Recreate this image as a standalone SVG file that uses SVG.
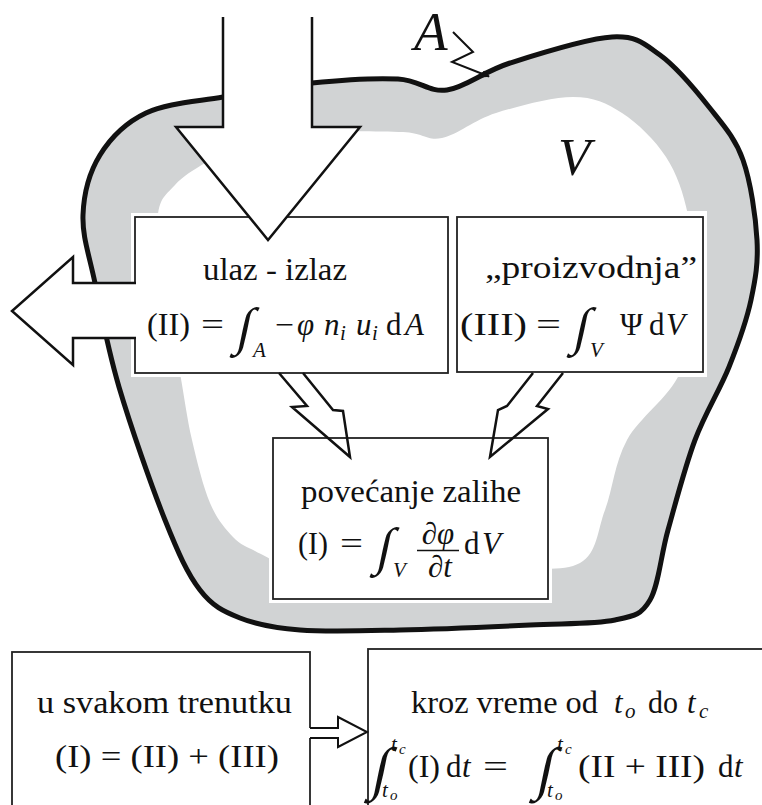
<svg xmlns="http://www.w3.org/2000/svg" width="762" height="805" viewBox="0 0 762 805">
<style>
.t{font-family:'Liberation Serif','Times New Roman',serif;font-size:31px;fill:#111}
.i{font-style:italic}
.s{font-size:21px}
.ss{font-size:15px}
.int{font-size:52px}
.bint{font-size:58px}
.box{fill:#fff;stroke:#222;stroke-width:1.8}
.halo{fill:#fff}
.arr{fill:#fff;stroke:#111;stroke-width:2.5;stroke-linejoin:miter}
.ln{fill:none;stroke:#111;stroke-width:2.5;stroke-linejoin:miter}
</style>
<defs>
<marker id="ah" viewBox="0 0 10 10" refX="9" refY="5" markerWidth="8" markerHeight="8" markerUnits="userSpaceOnUse" orient="auto">
<path d="M0,0 L10,5 L0,10 Z" fill="#111"/>
</marker>
</defs>
<rect width="762" height="805" fill="#fff"/>
<g id="blob">
<path d="M223,97 C250.7,92 282.8,86 312,83 C341.2,80 375.5,77.8 398,79 C420.5,80.2 428.3,92.7 447,90 C465.7,87.3 482.5,71.8 510,63 C537.5,54.2 587,38.3 612,37 C637,35.7 643.8,43.3 660,55 C676.2,66.7 695.2,89.5 709,107 C722.8,124.5 735.2,137.8 743,160 C750.8,182.2 755.7,216.7 757,240 C758.3,263.3 755.5,278.8 751,300 C746.5,321.2 738.3,343.7 729,367 C719.7,390.3 705.2,412.8 695,440 C684.8,467.2 675.5,503.3 668,530 C660.5,556.7 658.8,585 650,600 C641.2,615 635,615.8 615,620 C595,624.2 565.8,623.3 530,625 C494.2,626.7 438.3,629.2 400,630 C361.7,630.8 326.7,632 300,630 C273.3,628 256.7,624.7 240,618 C223.3,611.3 212.5,606.3 200,590 C187.5,573.7 178.5,553.8 165,520 C151.5,486.2 130.7,426.5 119,387 C107.3,347.5 101,311.7 95,283 C89,254.3 82.2,236.3 83,215 C83.8,193.7 89.5,172 100,155 C110.5,138 125.5,122.7 146,113 C166.5,103.3 195.3,101.7 223,97 Z" fill="#d1d3d4" stroke="#111" stroke-width="5"/>
<path d="M250,140 C268,134.8 287.5,133.3 313,132 C338.5,130.7 381.5,131 403,132 C424.5,133 426.5,141.2 442,138 C457.5,134.8 474.2,119.8 496,113 C517.8,106.2 552,97 573,97 C594,97 606.5,103 622,113 C637.5,123 655,140 666,157 C677,174 683.2,192.8 688,215 C692.8,237.2 696.3,263.7 695,290 C693.7,316.3 691.3,348 680,373 C668.7,398 639.5,417.2 627,440 C614.5,462.8 612.8,489.5 605,510 C597.2,530.5 597.5,553.3 580,563 C562.5,572.7 530,567.2 500,568 C470,568.8 438,569.3 400,568 C362,566.7 296.2,562.8 272,560 C265.5,556.2 262.5,555 255,551 C247.5,547 240.5,545 233,537 C225.5,529 216.8,519.2 210,503 C203.2,486.8 197,461.7 192,440 C187,418.3 184.5,398 180,373 C175.5,348 168.7,316.3 165,290 C161.3,263.7 156.3,232.5 158,215 C159.7,197.5 167.2,193.7 175,185 C182.8,176.3 192.5,170.5 205,163 C217.5,155.5 232,145.2 250,140 Z" fill="#fff"/>
<text class="t i" x="414" y="50" style="font-size:55px">A</text>
<text class="t i" x="558" y="175" style="font-size:53px">V</text>
</g>
<g id="box-ulaz">
<rect class="halo" x="131" y="213" width="321" height="164"/>
<rect class="box" x="135" y="217" width="313" height="156"/>
<text class="t" x="203" y="280" textLength="144" lengthAdjust="spacingAndGlyphs">ulaz - izlaz</text>
<text class="t" x="147" y="335" textLength="43" lengthAdjust="spacingAndGlyphs">(II)</text>
<text class="t" x="201" y="335" textLength="23" lengthAdjust="spacingAndGlyphs">=</text>
<text class="t int" transform="translate(235,344) skewX(-12)">∫</text>
<text class="t i s" x="253" y="357">A</text>
<text class="t" x="275" y="335" textLength="19" lengthAdjust="spacingAndGlyphs">−</text>
<text class="t i" x="297" y="335">φ</text>
<text class="t i" x="324" y="335">n</text>
<text class="t i s" x="340" y="340">i</text>
<text class="t i" x="356" y="335">u</text>
<text class="t i s" x="372" y="340">i</text>
<text class="t" x="386" y="335">d</text>
<text class="t i" x="405" y="335">A</text>
</g>
<g id="box-proizvodnja">
<rect class="halo" x="453" y="211" width="254" height="166"/>
<rect class="box" x="457" y="217" width="246" height="155"/>
<text class="t" x="485" y="278" textLength="212" lengthAdjust="spacingAndGlyphs">„proizvodnja”</text>
<text class="t" x="460" y="335" textLength="67" lengthAdjust="spacingAndGlyphs">(III)</text>
<text class="t" x="536" y="335" textLength="25" lengthAdjust="spacingAndGlyphs">=</text>
<text class="t int" transform="translate(572,344) skewX(-12)">∫</text>
<text class="t i s" x="590" y="357">V</text>
<text class="t" x="620" y="335">Ψ</text>
<text class="t" x="649" y="335">d</text>
<text class="t i" x="666" y="335">V</text>
</g>
<g id="box-zaliha">
<rect class="halo" x="269" y="434" width="283" height="169"/>
<rect class="box" x="273" y="438" width="275" height="161"/>
<text class="t" x="301" y="502" textLength="220" lengthAdjust="spacingAndGlyphs">povećanje zalihe</text>
<text class="t" x="298" y="554" textLength="30" lengthAdjust="spacingAndGlyphs">(I)</text>
<text class="t" x="340" y="554" textLength="23" lengthAdjust="spacingAndGlyphs">=</text>
<text class="t int" transform="translate(375,564) skewX(-12)">∫</text>
<text class="t i s" x="393" y="577">V</text>
<text class="t i" x="438" y="544" text-anchor="middle">∂φ</text>
<line x1="417" y1="550.5" x2="459" y2="550.5" stroke="#111" stroke-width="1.6"/>
<text class="t i" x="440" y="577" text-anchor="middle">∂t</text>
<text class="t" x="464" y="554">d</text>
<text class="t i" x="482" y="554">V</text>
</g>
<g id="box-trenutak">
<rect class="box" x="12" y="652" width="298" height="200"/>
<text class="t" x="37" y="713" textLength="255" lengthAdjust="spacingAndGlyphs">u svakom trenutku</text>
<text class="t" x="55" y="767" textLength="224" lengthAdjust="spacingAndGlyphs">(I) = (II) + (III)</text>
</g>
<g id="box-vreme">
<rect class="box" x="368" y="649" width="420" height="200"/>
<text class="t" x="411" y="713" textLength="187" lengthAdjust="spacingAndGlyphs">kroz vreme od</text>
<text class="t i" x="614" y="713">t</text>
<text class="t i s" x="625" y="718">o</text>
<text class="t" x="648" y="713" textLength="30" lengthAdjust="spacingAndGlyphs">do</text>
<text class="t i" x="687" y="713">t</text>
<text class="t i s" x="699" y="718">c</text>
<text class="t bint" transform="translate(370,788) skewX(-12)">∫</text>
<text class="t i s" x="391" y="751">t</text>
<text class="t i ss" x="399" y="754">c</text>
<text class="t i s" x="382" y="797">t</text>
<text class="t i ss" x="390" y="800">o</text>
<text class="t" x="408" y="777" textLength="32" lengthAdjust="spacingAndGlyphs">(I)</text>
<text class="t" x="446" y="777">d</text>
<text class="t i" x="462" y="777">t</text>
<text class="t" x="483" y="777" textLength="25" lengthAdjust="spacingAndGlyphs">=</text>
<text class="t bint" transform="translate(535,788) skewX(-12)">∫</text>
<text class="t i s" x="557" y="751">t</text>
<text class="t i ss" x="565" y="754">c</text>
<text class="t i s" x="547" y="797">t</text>
<text class="t i ss" x="555" y="800">o</text>
<text class="t" x="578" y="777" textLength="127" lengthAdjust="spacingAndGlyphs">(II + III)</text>
<text class="t" x="718" y="777">d</text>
<text class="t i" x="734" y="777">t</text>
</g>
<g id="connectors">
<path class="arr" d="M223,17 L223,127 L176,127 L268,240 L360,127 L312,127 L312,17"/>
<polygon points="136,283 73,283 73,257 12,311 73,365 73,338 136,338" fill="#fff"/>
<path class="ln" d="M136,283 L73,283 L73,257 L12,311 L73,365 L73,338 L136,338"/>
<path class="ln" d="M279,373 L307,406 L292,407 L350,457 L343,411 L333,410 L303,373"/>
<path class="ln" d="M533,373 L507,406 L498,410 L490,457 L548,409 L537,406 L563,373"/>
<polygon points="309,728 338,728 338,717 367,732 338,747 338,738 309,738" fill="#fff"/>
<path d="M310,728 L338,728 L338,717 L367,732 L338,747 L338,738 L310,738" fill="none" stroke="#111" stroke-width="2"/>
<path d="M453,32 L473,52 L452,62 L489,76.5" fill="none" stroke="#111" stroke-width="2" marker-end="url(#ah)"/>
</g>
</svg>
